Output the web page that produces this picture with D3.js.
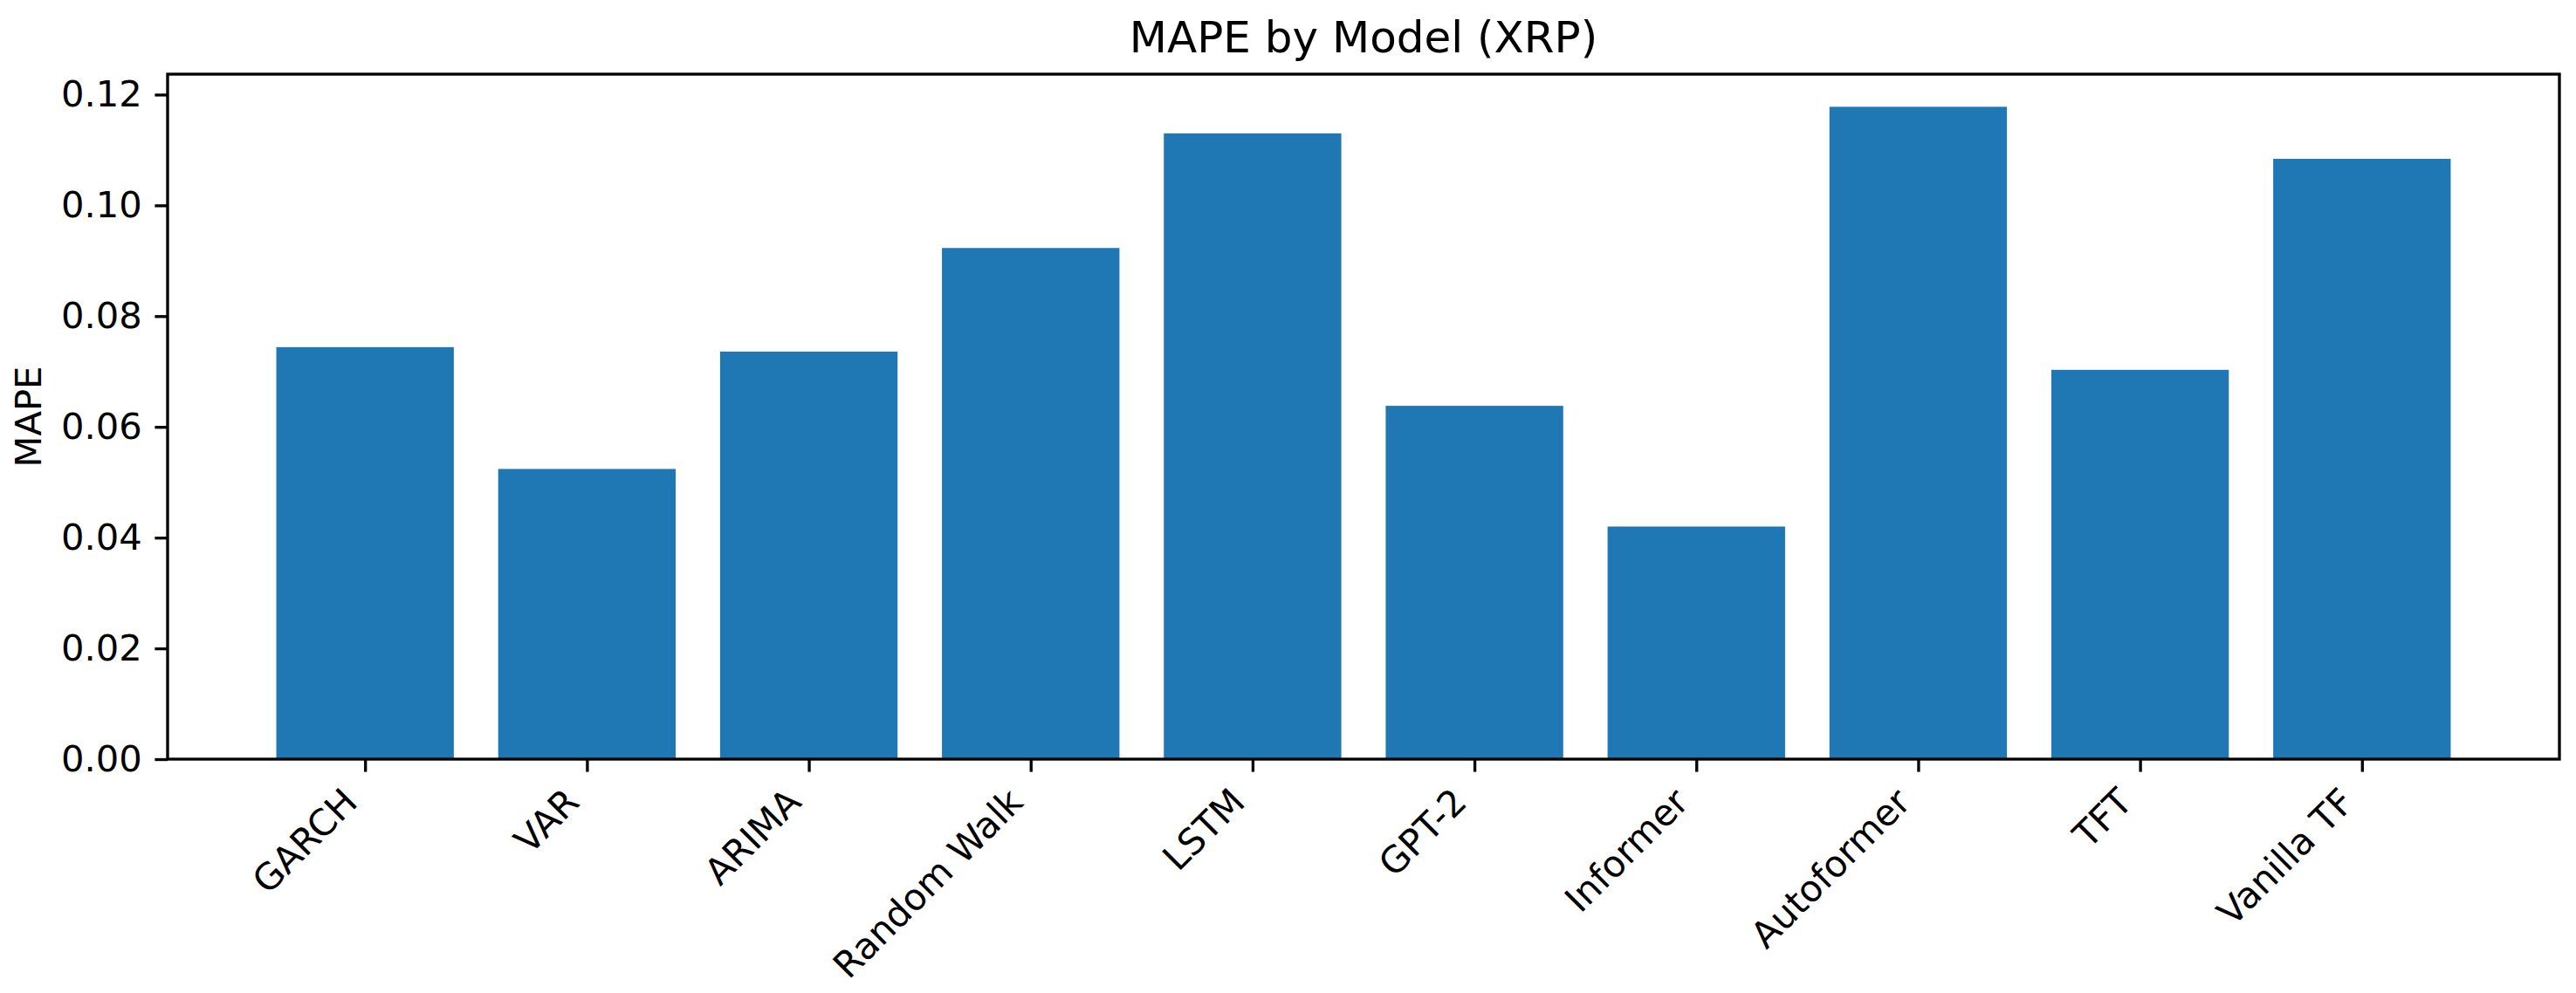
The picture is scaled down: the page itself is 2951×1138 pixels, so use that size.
<!DOCTYPE html>
<html>
<head>
<meta charset="utf-8">
<script src="https://cdn.jsdelivr.net/npm/d3@7"></script>
<style>
  html, body { margin: 0; padding: 0; background: #ffffff; }
  svg { display: block; }
  text { font-family: "DejaVu Sans", sans-serif; fill: #000; }
</style>
</head>
<body>
<svg id="chart" width="2951" height="1138"></svg>
<script>
const categories = ["GARCH", "VAR", "ARIMA", "Random Walk", "LSTM", "GPT-2", "Informer", "Autoformer", "TFT", "Vanilla TF"];
const mapeValues = [0.0744, 0.0524, 0.0736, 0.0923, 0.1130, 0.0638, 0.0420, 0.1178, 0.0703, 0.1084];
const yTicks = [0.00, 0.02, 0.04, 0.06, 0.08, 0.10, 0.12];
const titleText = "MAPE by Model (XRP)";
const yLabelText = "MAPE";

const W = 2951, H = 1138;
const margin = { left: 192, right: W - 2932, top: 85, bottom: H - 870 };
const fs = 41.67, tick = 14.6, pad = 14.6, lw = 3.33;

const svg = d3.select("#chart");
svg.append("rect").attr("width", W).attr("height", H).attr("fill", "#fff");

const n = categories.length;
const barW = 0.8;
const span = (n - 1 + barW);
const xm = span * 0.05;
const x = d3.scaleLinear()
  .domain([-barW / 2 - xm, n - 1 + barW / 2 + xm])
  .range([margin.left, W - margin.right]);
const yMax = d3.max(mapeValues) * 1.05;
const y = d3.scaleLinear().domain([0, yMax]).range([H - margin.bottom, margin.top]);

// bars
svg.append("g").selectAll("rect").data(mapeValues).join("rect")
  .attr("x", (d, i) => x(i - barW / 2))
  .attr("width", (d, i) => x(i + barW / 2) - x(i - barW / 2))
  .attr("y", d => y(d))
  .attr("height", d => y(0) - y(d))
  .attr("fill", "#1f77b4");

// y axis
const yAxis = d3.axisLeft(y).tickValues(yTicks).tickFormat(d3.format(".2f"))
  .tickSize(tick).tickPadding(pad);
const gy = svg.append("g").attr("transform", `translate(${margin.left},0)`).call(yAxis);
gy.select(".domain").remove();
gy.selectAll(".tick line").attr("stroke", "#000").attr("stroke-width", lw);
gy.selectAll(".tick text").attr("font-size", fs).attr("font-family", "DejaVu Sans").attr("fill", "#000");

// x axis
const xAxis = d3.axisBottom(x).tickValues(d3.range(n)).tickFormat(i => categories[i])
  .tickSize(tick).tickPadding(pad);
const gx = svg.append("g").attr("transform", `translate(0,${H - margin.bottom})`).call(xAxis);
gx.select(".domain").remove();
gx.selectAll(".tick line").attr("stroke", "#000").attr("stroke-width", lw);
gx.selectAll(".tick text")
  .attr("font-size", fs).attr("font-family", "DejaVu Sans").attr("fill", "#000")
  .attr("text-anchor", "end")
  .attr("x", 0).attr("y", 0).attr("dy", 0)
  .attr("transform", `translate(${-0.707 * 0.24 * fs},${tick + pad + 0.707 * 0.76 * fs}) rotate(-45)`);

// frame
svg.append("rect")
  .attr("x", margin.left).attr("y", margin.top)
  .attr("width", W - margin.left - margin.right)
  .attr("height", H - margin.top - margin.bottom)
  .attr("fill", "none").attr("stroke", "#000").attr("stroke-width", lw);

// title
svg.append("text")
  .attr("x", (margin.left + W - margin.right) / 2)
  .attr("y", margin.top - 25)
  .attr("text-anchor", "middle")
  .attr("font-size", 50)
  .text(titleText);

// y label
svg.append("text")
  .attr("transform", `translate(47,${(margin.top + H - margin.bottom) / 2}) rotate(-90)`)
  .attr("text-anchor", "middle")
  .attr("font-size", fs)
  .text(yLabelText);
</script>
</body>
</html>
